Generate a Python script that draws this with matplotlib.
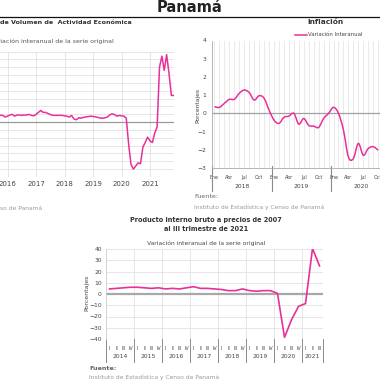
import numpy as np
import matplotlib
matplotlib.use("Agg")
import matplotlib.pyplot as plt
from matplotlib.lines import Line2D
from matplotlib.path import Path
from matplotlib.patches import PathPatch
import matplotlib.transforms as mtransforms

plt.rcParams['font.family'] = ['DejaVu Sans']

PINK = '#E8309A'

# ---------------- data ----------------
# Monthly activity index, year-on-year %, Oct 2015 .. Nov 2021
imae_start = 2015.75
imae = [4.3, 4.3, 3.2,
        3.8, 4.5, 4.9, 3.8, 4.5, 4.5, 4.3, 4.5, 4.5, 4.9, 4.3, 4.0,
        4.9, 6.2, 7.4, 6.2, 6.2, 5.5, 4.9, 4.3, 4.3, 4.3, 4.3, 4.3,
        4.0, 3.8, 3.2, 4.2, 2.0, 1.5, 2.8, 2.5, 3.0, 3.3, 3.5, 3.8,
        3.6, 3.4, 3.0, 2.6, 2.5, 2.7, 3.2, 4.5, 5.3, 4.8, 3.8, 4.2,
        4.0, 3.8, 2.5, -14.0, -27.0, -30.0, -28.0, -26.0, -26.5, -16.0, -13.0, -9.6,
        -12.0, -13.0, -7.0, -3.0, 35.0, 42.0, 33.0, 43.0, 31.0, 17.0, 17.0]
imae_years = [2016, 2017, 2018, 2019, 2020, 2021]

# Inflation, year-on-year %, Jan 2018 .. Oct 2020
infl_months = ['Ene', 'Feb', 'Mar', 'Abr', 'May', 'Jun', 'Jul', 'Ago', 'Sep', 'Oct', 'Nov', 'Dic']
infl_years = ['2018', '2019', '2020']
inflation = [0.37, 0.33, 0.55, 0.77, 0.77, 1.10, 1.28, 1.14, 0.73, 0.97, 0.83, 0.18,
             -0.37, -0.55, -0.22, -0.15, 0.00, -0.59, -0.28, -0.66, -0.70, -0.77, -0.28, 0.00,
             0.33, 0.00, -0.92, -2.40, -2.48, -1.65, -2.30, -1.93, -1.83, -2.02]

# GDP, year-on-year %, 2014Q1 .. 2021Q3
gdp_years = ['2014', '2015', '2016', '2017', '2018', '2019', '2020', '2021']
gdp_quarters = ['I', 'II', 'III', 'IV']
gdp = [4.5, 5.0, 5.5, 6.0,
       6.0, 5.5, 5.0, 5.5,
       4.5, 5.0, 4.5, 5.5,
       6.5, 5.0, 5.0, 4.5,
       4.0, 3.0, 3.0, 4.5,
       3.0, 2.5, 3.0, 3.0,
       0.5, -38.5, -23.0, -11.0,
       -8.5, 40.5, 25.0]

# ---------------- layout helpers ----------------
W = H = 380.0
def rect(l, t, r, b):
    return [l / W, 1 - b / H, (r - l) / W, (b - t) / H]
def fx(px):
    return px / W
def fy(py):
    return 1 - py / H

fig = plt.figure(figsize=(3.8, 3.8), dpi=100)
fig.patch.set_facecolor('white')

# Main title and rule
fig.text(fx(189), fy(8), 'Panamá', ha='center', va='center', fontsize=10.5,
         fontweight='bold', color='#222222')
fig.add_artist(Line2D([0, 1], [fy(16.5)] * 2, color='#111111', lw=0.9,
                      transform=fig.transFigure))

GRID = '#e2e2e2'
TXT = '#444444'

# ---------------- top-left: activity index ----------------
ax1 = fig.add_axes(rect(-40, 51.5, 174, 177))
x1 = imae_start + np.arange(len(imae)) / 12.0
ax1.set_xlim(2014.333, 2021.842)
ax1.set_ylim(-35, 45)
ax1.set_yticks(np.arange(-35, 46, 5))
ax1.set_xticks(imae_years)
ax1.set_xticklabels([str(y) for y in imae_years])
ax1.grid(True, color=GRID, lw=0.6)
ax1.set_axisbelow(True)
ax1.axhline(0, color='#9a9a9a', lw=0.9, zorder=2)
ax1.plot(x1, imae, color=PINK, lw=1.1, zorder=3)
for s in ax1.spines.values():
    s.set_visible(False)
ax1.tick_params(length=0, labelsize=5, colors=TXT, pad=3)
ax1.tick_params(axis='y', labelleft=False)

fig.text(fx(0), fy(22), 'de Volumen de  Actividad Económica', ha='left', va='center',
         fontsize=4.6, fontweight='bold', color='#333333')
fig.text(fx(114), fy(41), 'Variación interanual de la serie original', ha='right', va='center',
         fontsize=4.5, color='#555555')
fig.text(fx(42), fy(208), 'Instituto de Estadística y Censo de Panamá', ha='right', va='center',
         fontsize=4.3, color='#999999')

# ---------------- top-right: inflation ----------------
step = 4.96
ax2 = fig.add_axes(rect(212, 40.5, 214.5 + 35.5 * step, 168))
n_months = 36
ax2.set_xlim(-0.5, n_months - 0.5)
ax2.set_ylim(-3, 4)
ax2.set_yticks(range(-3, 5))
ax2.set_xticks(range(n_months))
ax2.set_xticklabels([infl_months[i % 12] if i % 3 == 0 else '' for i in range(n_months)])
ax2.grid(True, axis='x', color=GRID, lw=0.5)
ax2.set_axisbelow(True)
ax2.axhline(0, color='#a0a0a0', lw=0.9, zorder=2)
for s in ['top', 'right']:
    ax2.spines[s].set_visible(False)
for s in ['left', 'bottom']:
    ax2.spines[s].set_color('#aaaaaa')
    ax2.spines[s].set_linewidth(0.6)
ax2.tick_params(length=0, colors=TXT)
ax2.tick_params(axis='x', labelsize=3.4, pad=5)
ax2.tick_params(axis='y', labelsize=4.3, pad=4)

# smooth (Excel-like) curve through the inflation points
xi = np.arange(len(inflation), dtype=float)
yi = np.array(inflation, dtype=float)
P = np.column_stack([xi, yi])
Pext = np.vstack([P[0], P, P[-1]])
verts = [tuple(P[0])]
codes = [Path.MOVETO]
for k in range(len(P) - 1):
    p0, p1, p2, p3 = Pext[k], Pext[k + 1], Pext[k + 2], Pext[k + 3]
    c1 = p1 + (p2 - p0) / 6.0
    c2 = p2 - (p3 - p1) / 6.0
    verts += [tuple(c1), tuple(c2), tuple(p2)]
    codes += [Path.CURVE4] * 3
ax2.add_patch(PathPatch(Path(verts, codes), fill=False, edgecolor=PINK, lw=1.1, zorder=3))
leg_handle = Line2D([], [], color=PINK, lw=1.1)
fig.legend([leg_handle], ['Variación Interanual'], loc='center left',
           bbox_to_anchor=(fx(292), fy(35)), frameon=False, fontsize=3.9,
           handlelength=2.2, handletextpad=0.2, borderpad=0, labelcolor='#444444')

tr2 = mtransforms.blended_transform_factory(ax2.transData, fig.transFigure)
for k, yr in enumerate(infl_years):
    ax2.text(12 * k + 5.5, fy(186), yr, transform=tr2, ha='center', va='center',
             fontsize=4.3, color=TXT, clip_on=False)
for k in range(4):
    ax2.add_line(Line2D([12 * k - 0.5] * 2, [fy(166), fy(191)], transform=tr2,
                        color='#8a8a8a', lw=0.8, clip_on=False))

fig.text(fx(198), fy(105), 'Porcentajes', rotation=90, ha='center', va='center',
         fontsize=4.3, color=TXT)
fig.text(fx(325), fy(22), 'Inflación', ha='center', va='center', fontsize=5.3,
         fontweight='bold', color='#333333')
fig.text(fx(194), fy(196), 'Fuente:', ha='left', va='center', fontsize=4.6,
         color='#666666')
fig.text(fx(194), fy(207), 'Instituto de Estadística y Censo de Panamá', ha='left',
         va='center', fontsize=4.3, color='#999999')

# ---------------- bottom: GDP ----------------
ax3 = fig.add_axes(rect(106, 249, 323, 339))
nq = len(gdp)
ax3.set_xlim(-0.5, nq - 0.5)
ax3.set_ylim(-40, 40)
ax3.set_yticks(range(-40, 41, 10))
ax3.set_xticks(range(nq))
ax3.set_xticklabels([gdp_quarters[i % 4] for i in range(nq)])
ax3.set_xticks(np.arange(3.5, nq - 1, 4), minor=True)
ax3.grid(True, axis='y', color=GRID, lw=0.6)
ax3.grid(True, axis='x', which='minor', color=GRID, lw=0.6)
ax3.set_axisbelow(True)
ax3.axhline(0, color='#a8a8a8', lw=1.6, zorder=2)
ax3.plot(np.arange(nq), gdp, color=PINK, lw=1.2, zorder=3)
for s in ['top', 'right', 'bottom']:
    ax3.spines[s].set_visible(False)
ax3.spines['left'].set_color('#cccccc')
ax3.spines['left'].set_linewidth(0.6)
ax3.tick_params(which='both', length=0, colors=TXT)
ax3.tick_params(axis='x', labelsize=3.4, pad=5)
ax3.tick_params(axis='y', labelsize=4.3, pad=3)

tr3 = mtransforms.blended_transform_factory(ax3.transData, fig.transFigure)
for k, yr in enumerate(gdp_years):
    lo = 4 * k
    hi = min(4 * k + 3, nq - 1)
    ax3.text((lo + hi) / 2.0, fy(357), yr, transform=tr3, ha='center', va='center',
             fontsize=4.3, color=TXT, clip_on=False)
for xb in list(np.arange(-0.5, nq, 4)) + [nq - 0.5]:
    ax3.add_line(Line2D([xb, xb], [fy(339), fy(362)], transform=tr3,
                        color='#8a8a8a', lw=0.7, clip_on=False))

fig.text(fx(87), fy(293), 'Porcentajes', rotation=90, ha='center', va='center',
         fontsize=4.5, color=TXT)
fig.text(fx(206), fy(220), 'Producto interno bruto a precios de 2007', ha='center',
         va='center', fontsize=4.7, fontweight='bold', color='#333333')
fig.text(fx(206), fy(229), 'al III trimestre de 2021', ha='center', va='center',
         fontsize=4.7, fontweight='bold', color='#333333')
fig.text(fx(206), fy(243), 'Variación interanual de la serie original', ha='center',
         va='center', fontsize=4.3, color='#444444')
fig.text(fx(89), fy(368), 'Fuente:', ha='left', va='center', fontsize=4.6,
         fontweight='bold', color='#666666')
fig.text(fx(89), fy(377), 'Instituto de Estadística y Censo de Panamá', ha='left',
         va='center', fontsize=4.3, color='#999999')

fig.savefig('out.png', dpi=100)
